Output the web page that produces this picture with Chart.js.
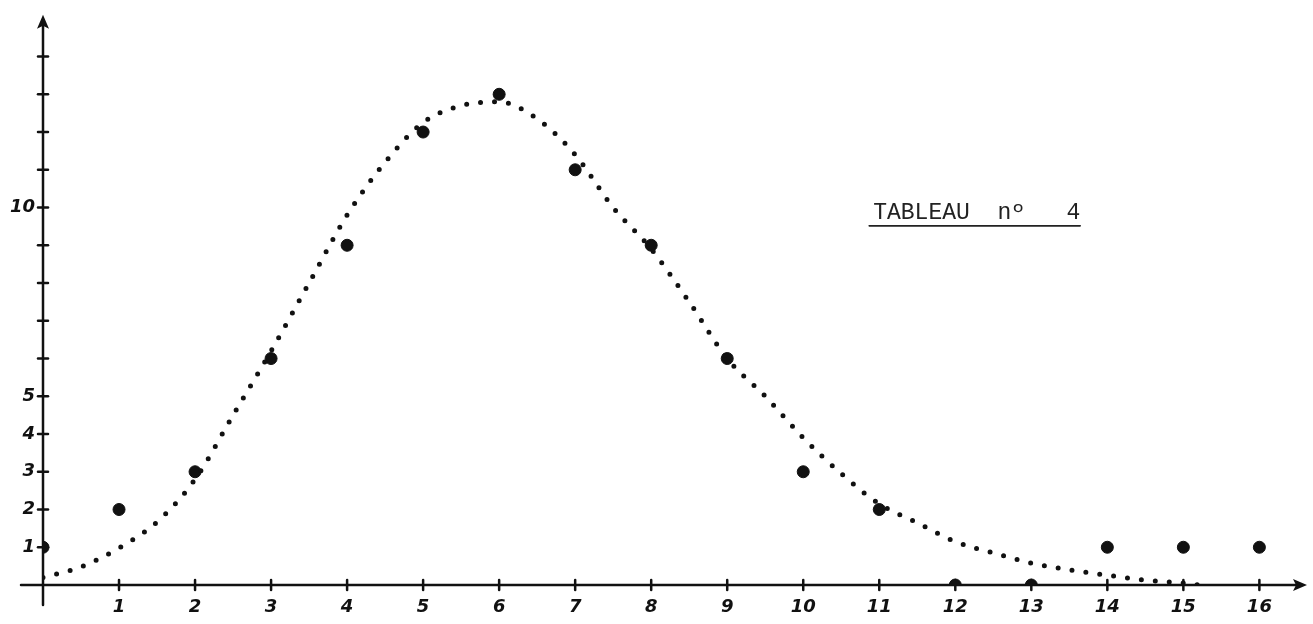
<!DOCTYPE html>
<html lang="fr">
<head>
<meta charset="utf-8" />
<title>Tableau n° 4</title>
<script src="https://cdn.jsdelivr.net/npm/chart.js@4"></script>
<style>
  html, body { margin: 0; padding: 0; background: #fff; }
  canvas { display: block; }
</style>
</head>
<body>
<canvas id="myChart" width="1313" height="624"></canvas>
<script>
// observed points (big dots)
const obsX = [0, 1, 2, 3, 4, 5, 6, 7, 8, 9, 10, 11, 12, 13, 14, 15, 16];
const obsY = [1, 2, 3, 6, 9, 12, 13, 11, 9, 6, 3, 2, 0, 0, 1, 1, 1];

// dotted fitted curve
const curveX = [0, 0.5, 1, 1.5, 2, 2.5, 3, 3.5, 4, 4.5, 5, 5.5, 6, 6.5, 7, 7.5, 8,
                8.5, 9, 9.5, 10, 10.5, 11, 11.5, 12, 12.5, 13, 13.5, 14, 14.5, 15, 15.2];
const curveY = [0.2, 0.48, 0.98, 1.67, 2.8, 4.5, 6.2, 8.0, 9.8, 11.2, 12.25, 12.7, 12.8, 12.35, 11.4, 10.0, 8.9,
                7.5, 6.0, 5.0, 3.9, 2.95, 2.15, 1.65, 1.15, 0.85, 0.58, 0.4, 0.26, 0.13, 0.05, 0];

// tick labels written on the axes
const xTickLabels = [1, 2, 3, 4, 5, 6, 7, 8, 9, 10, 11, 12, 13, 14, 15, 16];
const yTickLabels = [1, 2, 3, 4, 5, 10];
const yTickMarks = [1, 2, 3, 4, 5, 6, 7, 8, 9, 10, 11, 12, 13, 14];

const titleText = 'TABLEAU  n\u00BA   4';

const ink = '#111';
const handFont = { family: '"DejaVu Sans", sans-serif', size: 18, weight: 'bold', style: 'italic' };

// hand drawn axes with arrows and cross ticks
const handAxes = {
  id: 'handAxes',
  beforeDatasetsDraw(chart) {
    const ctx = chart.ctx;
    const x = chart.scales.x, y = chart.scales.y;
    const x0 = x.getPixelForValue(0), y0 = y.getPixelForValue(0);
    ctx.save();
    ctx.strokeStyle = ink;
    ctx.fillStyle = ink;
    ctx.lineWidth = 2.5;
    ctx.lineCap = 'round';

    // x axis
    const xEnd = x.right;
    ctx.beginPath();
    ctx.moveTo(x0 - 22, y0);
    ctx.lineTo(xEnd - 4, y0);
    ctx.stroke();
    ctx.beginPath();
    ctx.moveTo(xEnd + 2, y0);
    ctx.lineTo(xEnd - 12, y0 - 6);
    ctx.lineTo(xEnd - 9, y0);
    ctx.lineTo(xEnd - 12, y0 + 6);
    ctx.closePath();
    ctx.fill();

    // y axis
    const yEnd = y.top;
    ctx.beginPath();
    ctx.moveTo(x0, y0 + 20);
    ctx.lineTo(x0, yEnd + 4);
    ctx.stroke();
    ctx.beginPath();
    ctx.moveTo(x0, yEnd - 4);
    ctx.lineTo(x0 - 6, yEnd + 10);
    ctx.lineTo(x0, yEnd + 7);
    ctx.lineTo(x0 + 6, yEnd + 10);
    ctx.closePath();
    ctx.fill();

    // ticks
    ctx.lineWidth = 2.5;
    xTickLabels.forEach(v => {
      const px = x.getPixelForValue(v);
      ctx.beginPath();
      ctx.moveTo(px, y0 - 5);
      ctx.lineTo(px, y0 + 5);
      ctx.stroke();
    });
    yTickMarks.forEach(v => {
      const py = y.getPixelForValue(v);
      ctx.beginPath();
      ctx.moveTo(x0 - 5, py);
      ctx.lineTo(x0 + 5, py);
      ctx.stroke();
    });

    // title
    const tx = x.getPixelForValue(10.92), ty = y.getPixelForValue(9.7);
    ctx.font = '23px "Liberation Mono", monospace';
    ctx.fillStyle = '#222';
    ctx.textBaseline = 'alphabetic';
    ctx.fillText(titleText, tx, ty);
    const w = ctx.measureText(titleText).width;
    ctx.lineWidth = 1.6;
    ctx.strokeStyle = '#222';
    ctx.beginPath();
    ctx.moveTo(tx - 4, ty + 7);
    ctx.lineTo(tx + w, ty + 7);
    ctx.stroke();
    ctx.restore();
  }
};

const data = {
  datasets: [
    {
      label: 'courbe',
      data: curveX.map((v, i) => ({ x: v, y: curveY[i] })),
      showLine: true,
      borderColor: ink,
      borderWidth: 5,
      borderDash: [0, 14],
      borderCapStyle: 'round',
      cubicInterpolationMode: 'monotone',
      pointRadius: 0,
      fill: false
    },
    {
      label: 'observations',
      data: obsX.map((v, i) => ({ x: v, y: obsY[i] })),
      showLine: false,
      backgroundColor: ink,
      borderColor: ink,
      pointRadius: 6,
      pointHoverRadius: 6
    }
  ]
};

const config = {
  type: 'scatter',
  data: data,
  options: {
    responsive: false,
    animation: false,
    layout: { padding: { top: 15, right: 8, left: 0, bottom: 0 } },
    plugins: { legend: { display: false }, tooltip: { enabled: false } },
    scales: {
      x: {
        type: 'linear',
        min: 0,
        max: 16.6,
        grid: { display: false, drawTicks: false },
        border: { display: false },
        afterFit(scale) { scale.height = 39; },
        ticks: {
          stepSize: 1,
          includeBounds: false,
          padding: 12,
          color: ink,
          font: handFont,
          maxRotation: 0,
          autoSkip: false,
          callback: v => xTickLabels.includes(v) ? String(v) : ''
        }
      },
      y: {
        type: 'linear',
        min: 0,
        max: 15,
        grid: { display: false, drawTicks: false },
        border: { display: false },
        afterFit(scale) { scale.width = 43; },
        ticks: {
          stepSize: 1,
          includeBounds: false,
          padding: 8,
          color: ink,
          font: handFont,
          autoSkip: false,
          callback: v => yTickLabels.includes(v) ? String(v) : ''
        }
      }
    }
  },
  plugins: [handAxes]
};

new Chart(document.getElementById('myChart'), config);
</script>
</body>
</html>
